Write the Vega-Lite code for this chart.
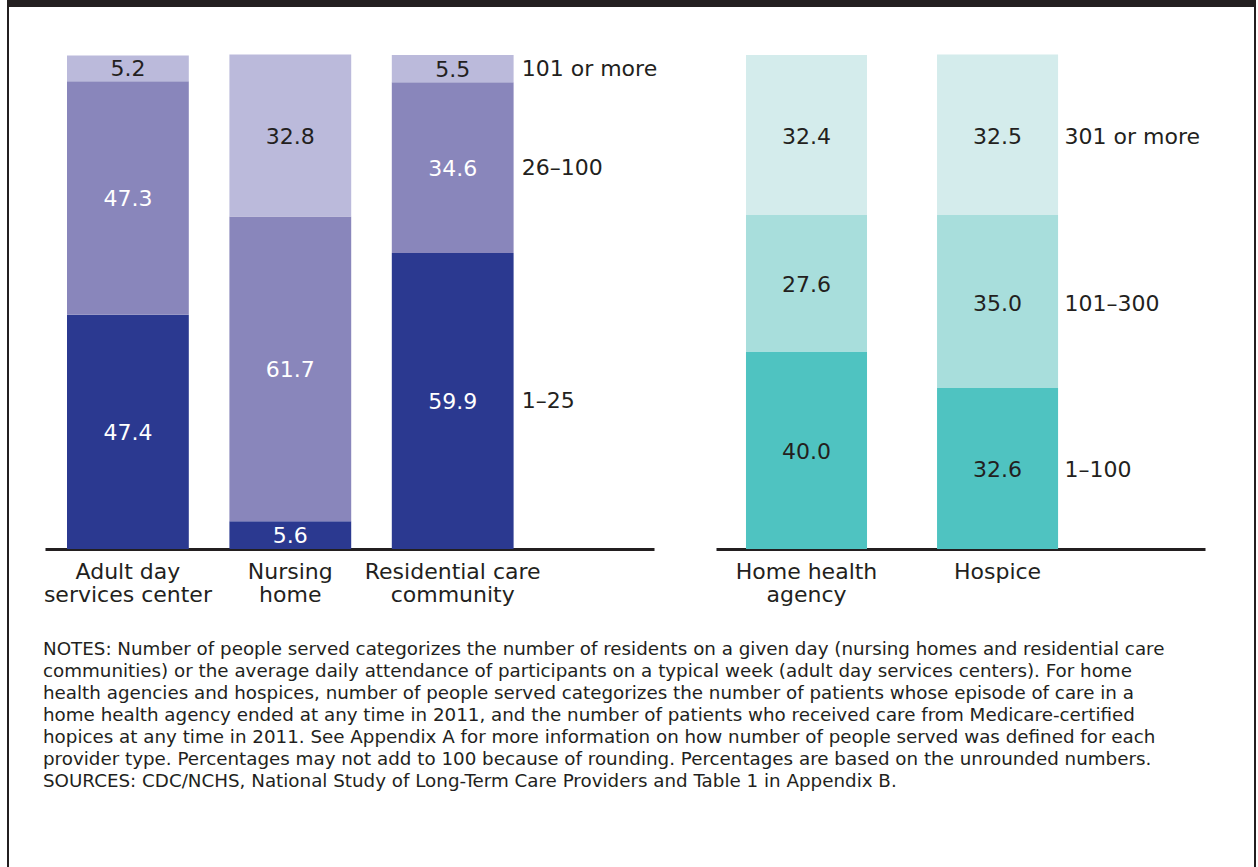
{
  "$schema": "https://vega.github.io/schema/vega-lite/v6.json",
  "padding": {"left": 7, "top": 0, "right": 0, "bottom": 0},
  "background": "white",
  "bounds": "flush",
  "align": "each",
  "spacing": 0,
  "columns": 7,
  "resolve": {"scale": {"color": "independent", "x": "independent", "y": "independent"}},
  "config": {"view": {"stroke": null}, "font": "DejaVu Sans"},
  "datasets": {
    "blank": [{}],
    "left": [
      {"provider": "Adult day services center", "size": "1–25", "rank": 1, "pct": 47.4},
      {"provider": "Adult day services center", "size": "26–100", "rank": 2, "pct": 47.3},
      {"provider": "Adult day services center", "size": "101 or more", "rank": 3, "pct": 5.2},
      {"provider": "Nursing home", "size": "1–25", "rank": 1, "pct": 5.6},
      {"provider": "Nursing home", "size": "26–100", "rank": 2, "pct": 61.7},
      {"provider": "Nursing home", "size": "101 or more", "rank": 3, "pct": 32.8},
      {"provider": "Residential care community", "size": "1–25", "rank": 1, "pct": 59.9},
      {"provider": "Residential care community", "size": "26–100", "rank": 2, "pct": 34.6},
      {"provider": "Residential care community", "size": "101 or more", "rank": 3, "pct": 5.5}
    ],
    "right": [
      {"provider": "Home health agency", "size": "1–100", "rank": 1, "pct": 40.0},
      {"provider": "Home health agency", "size": "101–300", "rank": 2, "pct": 27.6},
      {"provider": "Home health agency", "size": "301 or more", "rank": 3, "pct": 32.4},
      {"provider": "Hospice", "size": "1–100", "rank": 1, "pct": 32.6},
      {"provider": "Hospice", "size": "101–300", "rank": 2, "pct": 35.0},
      {"provider": "Hospice", "size": "301 or more", "rank": 3, "pct": 32.5}
    ]
  },
  "concat": [
    {"width": 2, "height": 7, "data": {"name": "blank"}, "mark": {"type": "point", "size": 0, "opacity": 0}, "encoding": {}, "view": {"fill": "#231f20"}},
    {"width": 36, "height": 7, "data": {"name": "blank"}, "mark": {"type": "point", "size": 0, "opacity": 0}, "encoding": {}, "view": {"fill": "#231f20"}},
    {"width": 609, "height": 7, "data": {"name": "blank"}, "mark": {"type": "point", "size": 0, "opacity": 0}, "encoding": {}, "view": {"fill": "#231f20"}},
    {"width": 62, "height": 7, "data": {"name": "blank"}, "mark": {"type": "point", "size": 0, "opacity": 0}, "encoding": {}, "view": {"fill": "#231f20"}},
    {"width": 489, "height": 7, "data": {"name": "blank"}, "mark": {"type": "point", "size": 0, "opacity": 0}, "encoding": {}, "view": {"fill": "#231f20"}},
    {"width": 49, "height": 7, "data": {"name": "blank"}, "mark": {"type": "point", "size": 0, "opacity": 0}, "encoding": {}, "view": {"fill": "#231f20"}},
    {"width": 2, "height": 7, "data": {"name": "blank"}, "mark": {"type": "point", "size": 0, "opacity": 0}, "encoding": {}, "view": {"fill": "#231f20"}},

    {"width": 2, "height": 48, "data": {"name": "blank"}, "mark": {"type": "point", "size": 0, "opacity": 0}, "encoding": {}, "view": {"fill": "#231f20"}},
    {"width": 36, "height": 48, "data": {"name": "blank"}, "mark": {"type": "point", "size": 0, "opacity": 0}, "encoding": {}},
    {"width": 609, "height": 48, "data": {"name": "blank"}, "mark": {"type": "point", "size": 0, "opacity": 0}, "encoding": {}},
    {"width": 62, "height": 48, "data": {"name": "blank"}, "mark": {"type": "point", "size": 0, "opacity": 0}, "encoding": {}},
    {"width": 489, "height": 48, "data": {"name": "blank"}, "mark": {"type": "point", "size": 0, "opacity": 0}, "encoding": {}},
    {"width": 49, "height": 48, "data": {"name": "blank"}, "mark": {"type": "point", "size": 0, "opacity": 0}, "encoding": {}},
    {"width": 2, "height": 48, "data": {"name": "blank"}, "mark": {"type": "point", "size": 0, "opacity": 0}, "encoding": {}, "view": {"fill": "#231f20"}},

    {"width": 2, "height": 494, "data": {"name": "blank"}, "mark": {"type": "point", "size": 0, "opacity": 0}, "encoding": {}, "view": {"fill": "#231f20"}},
    {"width": 36, "height": 494, "data": {"name": "blank"}, "mark": {"type": "point", "size": 0, "opacity": 0}, "encoding": {}},
    {
      "width": 609,
      "height": 494,
      "data": {"name": "left"},
      "encoding": {
        "x": {
          "field": "provider", "type": "nominal",
          "sort": ["Adult day services center", "Nursing home", "Residential care community"],
          "scale": {"paddingInner": 0.25, "paddingOuter": 0.5, "align": 0.1355},
          "axis": {
            "title": null, "labelAngle": 0, "ticks": false, "domainColor": "#231f20", "domainWidth": 3,
            "labelFont": "DejaVu Sans", "labelFontSize": 22, "labelColor": "#231f20", "labelPadding": 12,
            "labelLineHeight": 23,
            "labelExpr": "datum.value == 'Adult day services center' ? ['Adult day', 'services center'] : datum.value == 'Nursing home' ? ['Nursing', 'home'] : ['Residential care', 'community']"
          }
        },
        "order": {"field": "rank", "type": "quantitative"}
      },
      "layer": [
        {
          "mark": {"type": "bar"},
          "encoding": {
            "y": {"field": "pct", "type": "quantitative", "stack": "zero", "scale": {"domain": [0, 100], "nice": false}, "axis": null},
            "color": {"field": "size", "type": "nominal", "scale": {"domain": ["1–25", "26–100", "101 or more"], "range": ["#2b3990", "#8986bb", "#bbbadb"]}, "legend": null}
          }
        },
        {
          "mark": {"type": "text", "fontSize": 22, "baseline": "middle", "dy": 1, "font": "DejaVu Sans"},
          "encoding": {
            "y": {"field": "pct", "type": "quantitative", "stack": "zero", "bandPosition": 0.5},
            "text": {"field": "pct", "type": "quantitative", "format": ".1f"},
            "color": {"condition": {"test": "datum.size === '101 or more'", "value": "#231f20"}, "value": "#ffffff"}
          }
        },
        {
          "transform": [{"filter": "datum.provider === 'Residential care community'"}],
          "mark": {"type": "text", "fontSize": 22, "baseline": "middle", "align": "left", "dx": 69, "dy": 0, "font": "DejaVu Sans", "color": "#231f20"},
          "encoding": {
            "y": {"field": "pct", "type": "quantitative", "stack": "zero", "bandPosition": 0.5},
            "text": {"field": "size", "type": "nominal"}
          }
        }
      ]
    },
    {"width": 62, "height": 494, "data": {"name": "blank"}, "mark": {"type": "point", "size": 0, "opacity": 0}, "encoding": {}},
    {
      "width": 489,
      "height": 494,
      "data": {"name": "right"},
      "encoding": {
        "x": {
          "field": "provider", "type": "nominal",
          "sort": ["Home health agency", "Hospice"],
          "scale": {"paddingInner": 0.3665, "paddingOuter": 0.463, "align": 0.1695},
          "axis": {
            "title": null, "labelAngle": 0, "ticks": false, "domainColor": "#231f20", "domainWidth": 3,
            "labelFont": "DejaVu Sans", "labelFontSize": 22, "labelColor": "#231f20", "labelPadding": 12,
            "labelLineHeight": 23,
            "labelExpr": "datum.value == 'Home health agency' ? ['Home health', 'agency'] : ['Hospice']"
          }
        },
        "order": {"field": "rank", "type": "quantitative"}
      },
      "layer": [
        {
          "mark": {"type": "bar"},
          "encoding": {
            "y": {"field": "pct", "type": "quantitative", "stack": "zero", "scale": {"domain": [0, 100], "nice": false}, "axis": null},
            "color": {"field": "size", "type": "nominal", "scale": {"domain": ["1–100", "101–300", "301 or more"], "range": ["#4fc3c1", "#a8dedc", "#d4ecec"]}, "legend": null}
          }
        },
        {
          "mark": {"type": "text", "fontSize": 22, "baseline": "middle", "dy": 2, "font": "DejaVu Sans", "color": "#231f20"},
          "encoding": {
            "y": {"field": "pct", "type": "quantitative", "stack": "zero", "bandPosition": 0.5},
            "text": {"field": "pct", "type": "quantitative", "format": ".1f"}
          }
        },
        {
          "transform": [{"filter": "datum.provider === 'Hospice'"}],
          "mark": {"type": "text", "fontSize": 22, "baseline": "middle", "align": "left", "dx": 67, "dy": 2, "font": "DejaVu Sans", "color": "#231f20"},
          "encoding": {
            "y": {"field": "pct", "type": "quantitative", "stack": "zero", "bandPosition": 0.5},
            "text": {"field": "size", "type": "nominal"}
          }
        }
      ]
    },
    {"width": 49, "height": 494, "data": {"name": "blank"}, "mark": {"type": "point", "size": 0, "opacity": 0}, "encoding": {}},
    {"width": 2, "height": 494, "data": {"name": "blank"}, "mark": {"type": "point", "size": 0, "opacity": 0}, "encoding": {}, "view": {"fill": "#231f20"}},

    {"width": 2, "height": 92, "data": {"name": "blank"}, "mark": {"type": "point", "size": 0, "opacity": 0}, "encoding": {}, "view": {"fill": "#231f20"}},
    {"width": 36, "height": 92, "data": {"name": "blank"}, "mark": {"type": "point", "size": 0, "opacity": 0}, "encoding": {}},
    {
      "width": 609, "height": 92, "data": {"name": "blank"}, "mark": {"type": "point", "size": 0, "opacity": 0}, "encoding": {},
      "title": {
        "text": [
          "NOTES: Number of people served categorizes the number of residents on a given day (nursing homes and residential care",
          "communities) or the average daily attendance of participants on a typical week (adult day services centers). For home",
          "health agencies and hospices, number of people served categorizes the number of patients whose episode of care in a",
          "home health agency ended at any time in 2011, and the number of patients who received care from Medicare-certified",
          "hopices at any time in 2011. See Appendix A for more information on how number of people served was defined for each",
          "provider type. Percentages may not add to 100 because of rounding. Percentages are based on the unrounded numbers.",
          "SOURCES: CDC/NCHS, National Study of Long-Term Care Providers and Table 1 in Appendix B."
        ],
        "orient": "bottom", "anchor": "start", "frame": "group", "offset": 0, "dx": -2,
        "font": "DejaVu Sans", "fontSize": 18.3, "fontWeight": "normal", "color": "#231f20", "lineHeight": 22, "baseline": "top"
      }
    },
    {"width": 62, "height": 92, "data": {"name": "blank"}, "mark": {"type": "point", "size": 0, "opacity": 0}, "encoding": {}},
    {"width": 489, "height": 92, "data": {"name": "blank"}, "mark": {"type": "point", "size": 0, "opacity": 0}, "encoding": {}},
    {"width": 49, "height": 92, "data": {"name": "blank"}, "mark": {"type": "point", "size": 0, "opacity": 0}, "encoding": {}},
    {"width": 2, "height": 92, "data": {"name": "blank"}, "mark": {"type": "point", "size": 0, "opacity": 0}, "encoding": {}, "view": {"fill": "#231f20"}},

    {"width": 2, "height": 226, "data": {"name": "blank"}, "mark": {"type": "point", "size": 0, "opacity": 0}, "encoding": {}, "view": {"fill": "#231f20"}},
    {"width": 36, "height": 226, "data": {"name": "blank"}, "mark": {"type": "point", "size": 0, "opacity": 0}, "encoding": {}},
    {"width": 609, "height": 226, "data": {"name": "blank"}, "mark": {"type": "point", "size": 0, "opacity": 0}, "encoding": {}},
    {"width": 62, "height": 226, "data": {"name": "blank"}, "mark": {"type": "point", "size": 0, "opacity": 0}, "encoding": {}},
    {"width": 489, "height": 226, "data": {"name": "blank"}, "mark": {"type": "point", "size": 0, "opacity": 0}, "encoding": {}},
    {"width": 49, "height": 226, "data": {"name": "blank"}, "mark": {"type": "point", "size": 0, "opacity": 0}, "encoding": {}},
    {"width": 2, "height": 226, "data": {"name": "blank"}, "mark": {"type": "point", "size": 0, "opacity": 0}, "encoding": {}, "view": {"fill": "#231f20"}}
  ]
}
